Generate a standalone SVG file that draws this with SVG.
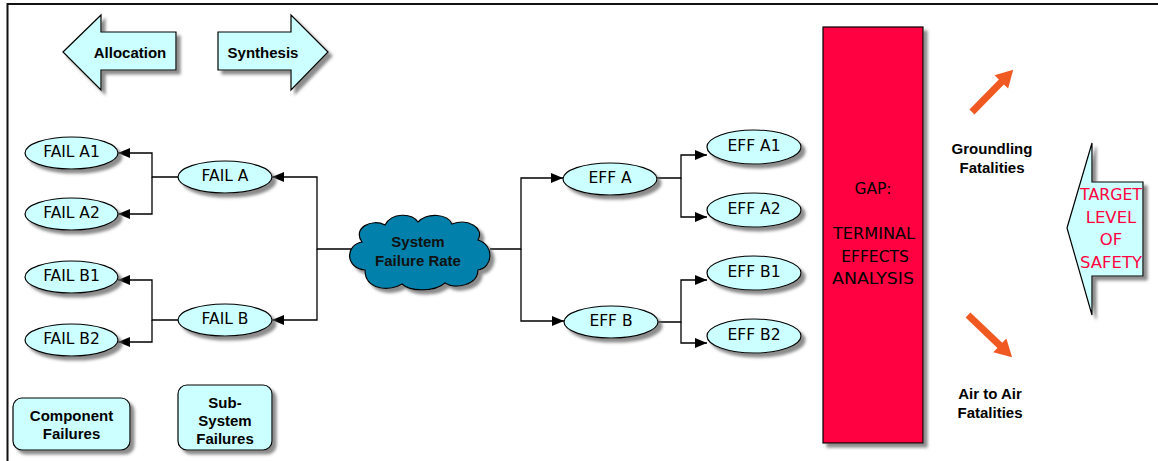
<svg xmlns="http://www.w3.org/2000/svg" width="1158" height="461" viewBox="0 0 1158 461">
<style>
.node{fill:#CCFFFF;stroke:#000;stroke-width:1.2}
.sh{filter:url(#shadow)}
.lbl{font-family:"DejaVu Sans","Noto Sans",sans-serif;font-size:15.5px;fill:#000;text-anchor:middle;dominant-baseline:central}
.red-t{font-size:16.5px;fill:#FF0040}
.bold{font-family:"Liberation Sans",Arial,sans-serif;font-weight:bold;font-size:15px;fill:#000;text-anchor:middle;dominant-baseline:central}
.conn{fill:none;stroke:#000;stroke-width:1.3}
.red{fill:#FF0040}
</style>
<defs>
<filter id="shadow" x="-20%" y="-20%" width="150%" height="150%">
<feDropShadow dx="4" dy="4" stdDeviation="1.5" flood-color="#666" flood-opacity="0.75"/>
</filter>
<marker id="ah" viewBox="0 0 12 10" refX="12" refY="5" markerWidth="12" markerHeight="10" markerUnits="userSpaceOnUse" orient="auto">
<path d="M0,0 L12,5 L0,10 z" fill="#000"/>
</marker>
</defs>
<rect width="1158" height="461" fill="#fff"/>
<path d="M7.5,461 V4 H1158" fill="none" stroke="#111" stroke-width="2"/>

<g id="connectors">
<path class="conn" d="M178,177 H152 V153 H118" marker-end="url(#ah)"/>
<path class="conn" d="M152,177 V214 H118" marker-end="url(#ah)"/>
<path class="conn" d="M178,320 H152 V280 H118" marker-end="url(#ah)"/>
<path class="conn" d="M152,320 V342 H118" marker-end="url(#ah)"/>
<path class="conn" d="M352,249 H317 V177 H272" marker-end="url(#ah)"/>
<path class="conn" d="M317,249 V320 H272" marker-end="url(#ah)"/>
<path class="conn" d="M490,249 H521 V178 H563" marker-end="url(#ah)"/>
<path class="conn" d="M521,249 V321 H564" marker-end="url(#ah)"/>
<path class="conn" d="M657,178 H681 V155 H707" marker-end="url(#ah)"/>
<path class="conn" d="M681,178 V217 H707" marker-end="url(#ah)"/>
<path class="conn" d="M658,322 H681 V280 H707" marker-end="url(#ah)"/>
<path class="conn" d="M681,322 V343 H707" marker-end="url(#ah)"/>
</g>

<g id="allocation">
<polygon class="node sh" points="63,52 101,15 101,32 176,32 176,70 101,70 101,90"/>
<text class="bold" x="130" y="52">Allocation</text>
</g>
<g id="synthesis">
<polygon class="node sh" points="328,52 291,15 291,32 218,32 218,70 291,70 291,90"/>
<text class="bold" x="263" y="52">Synthesis</text>
</g>

<g id="fail-a1"><ellipse class="node sh" cx="71.5" cy="153" rx="46.5" ry="16"/><text class="lbl" x="71.5" y="152">FAIL A1</text></g>
<g id="fail-a2"><ellipse class="node sh" cx="71.5" cy="214" rx="46.5" ry="16"/><text class="lbl" x="71.5" y="213">FAIL A2</text></g>
<g id="fail-b1"><ellipse class="node sh" cx="71.5" cy="277" rx="46.5" ry="16"/><text class="lbl" x="71.5" y="276">FAIL B1</text></g>
<g id="fail-b2"><ellipse class="node sh" cx="71.5" cy="340" rx="46.5" ry="16"/><text class="lbl" x="71.5" y="339">FAIL B2</text></g>
<g id="fail-a"><ellipse class="node sh" cx="225" cy="177" rx="47" ry="16"/><text class="lbl" x="225" y="176">FAIL A</text></g>
<g id="fail-b"><ellipse class="node sh" cx="225" cy="320" rx="47" ry="16"/><text class="lbl" x="225" y="319">FAIL B</text></g>

<g id="system">
<path class="sh" fill="#0080AA" stroke="#000" stroke-width="1.2" d="M365,270 C345,268 345,245 362,242 C352,228 372,218 385,225 C392,212 412,213 418,222 C428,212 448,214 452,224 C468,218 485,228 478,240 C495,245 493,268 478,270 C478,285 455,290 445,283 C435,292 410,292 402,284 C390,292 365,290 365,270 Z"/>
<text class="bold" x="418" y="241" style="fill:#111">System</text>
<text class="bold" x="418" y="260" style="fill:#111">Failure Rate</text>
</g>

<g id="eff-a"><ellipse class="node sh" cx="610" cy="179" rx="47" ry="16"/><text class="lbl" x="610" y="178">EFF A</text></g>
<g id="eff-b"><ellipse class="node sh" cx="611" cy="322" rx="47" ry="16"/><text class="lbl" x="611" y="321">EFF B</text></g>
<g id="eff-a1"><ellipse class="node sh" cx="754" cy="147" rx="47" ry="17"/><text class="lbl" x="754" y="146">EFF A1</text></g>
<g id="eff-a2"><ellipse class="node sh" cx="754" cy="210" rx="47" ry="17"/><text class="lbl" x="754" y="209">EFF A2</text></g>
<g id="eff-b1"><ellipse class="node sh" cx="754" cy="273" rx="47" ry="17"/><text class="lbl" x="754" y="272">EFF B1</text></g>
<g id="eff-b2"><ellipse class="node sh" cx="754" cy="336" rx="47" ry="17"/><text class="lbl" x="754" y="335">EFF B2</text></g>

<g id="gap">
<rect class="red sh" x="823" y="27" width="100" height="416" stroke="#000" stroke-width="1.2"/>
<text class="lbl" x="873" y="189">GAP:</text>
<text class="lbl" x="874" y="234" textLength="82" lengthAdjust="spacingAndGlyphs">TERMINAL</text>
<text class="lbl" x="875" y="257">EFFECTS</text>
<text class="lbl" x="873" y="279" textLength="82" lengthAdjust="spacingAndGlyphs">ANALYSIS</text>
</g>

<g id="groundling">
<polygon fill="#F05A22" transform="translate(972,112) rotate(-45.7)" points="0,-3.5 42,-3.5 42,-9.5 59,0 42,9.5 42,3.5 0,3.5"/>
<text class="bold" x="992" y="148">Groundling</text>
<text class="bold" x="992" y="167">Fatalities</text>
</g>
<g id="air-to-air">
<polygon fill="#F05A22" transform="translate(968,315) rotate(43.7)" points="0,-3.5 44,-3.5 44,-9.5 61,0 44,9.5 44,3.5 0,3.5"/>
<text class="bold" x="990" y="393">Air to Air</text>
<text class="bold" x="990" y="412">Fatalities</text>
</g>

<g id="target">
<polygon class="node sh" points="1067,228 1092,143 1092,182 1143,182 1143,276 1092,276 1092,315"/>
<text class="lbl red-t" x="1111" y="194" textLength="62" lengthAdjust="spacingAndGlyphs">TARGET</text>
<text class="lbl red-t" x="1111" y="217">LEVEL</text>
<text class="lbl red-t" x="1111" y="239">OF</text>
<text class="lbl red-t" x="1111" y="262" textLength="62" lengthAdjust="spacingAndGlyphs">SAFETY</text>
</g>

<g id="component-failures">
<rect class="node sh" x="13" y="398" width="117" height="52" rx="9"/>
<text class="bold" x="71.5" y="415">Component</text>
<text class="bold" x="71.5" y="433">Failures</text>
</g>
<g id="subsystem-failures">
<rect class="node sh" x="178" y="385" width="94" height="65" rx="9"/>
<text class="bold" x="225" y="402">Sub-</text>
<text class="bold" x="225" y="420">System</text>
<text class="bold" x="225" y="438">Failures</text>
</g>
</svg>
